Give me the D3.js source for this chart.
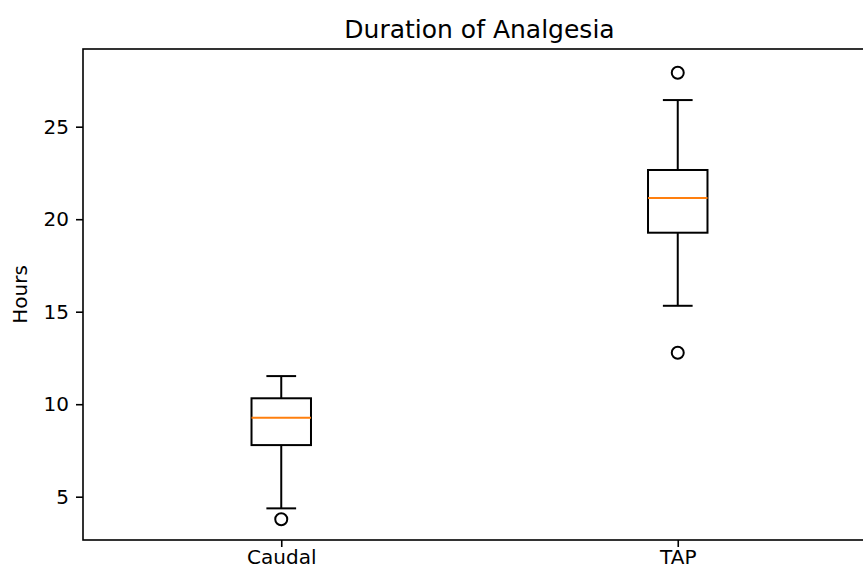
<!DOCTYPE html>
<html>
<head>
<meta charset="utf-8">
<script src="https://cdn.jsdelivr.net/npm/d3@7"></script>
<style>
  body { margin: 0; background: #fff; }
  text { font-family: "DejaVu Sans", sans-serif; fill: #000; }
</style>
</head>
<body>
<script>
// values (hours)
const categories = ['Caudal', 'TAP'];
const q1 = [7.79, 19.27];
const medians = [9.27, 21.15];
const q3 = [10.32, 22.66];
const whiskerLow = [4.37, 15.32];
const whiskerHigh = [11.52, 26.44];
const outliers = [[3.78], [12.78, 27.92]];
const yTicks = [5, 10, 15, 20, 25];

const boxes = categories.map((c, i) => ({
  name: c, pos: i + 1,
  q1: q1[i], med: medians[i], q3: q3[i],
  lo: whiskerLow[i], hi: whiskerHigh[i], out: outliers[i]
}));

const W = 863, H = 571;
const margin = { top: 49, left: 83, right: 876, bottom: 540 };

const x = d3.scaleLinear().domain([0.5, 2.5]).range([margin.left, margin.right]);
const y = d3.scaleLinear().domain([2.66, 29.2]).range([margin.bottom, margin.top]);

const svg = d3.select(document.body).append('svg')
  .attr('width', W)
  .attr('height', H);

const lw = 2;
const boxW = 0.15, capW = 0.075;

const g = svg.append('g');

const b = g.selectAll('g.box')
  .data(boxes)
  .enter().append('g')
  .attr('class', 'box');

// whiskers
b.append('line')
  .attr('x1', d => x(d.pos)).attr('x2', d => x(d.pos))
  .attr('y1', d => y(d.q3)).attr('y2', d => y(d.hi))
  .attr('stroke', '#000').attr('stroke-width', lw);
b.append('line')
  .attr('x1', d => x(d.pos)).attr('x2', d => x(d.pos))
  .attr('y1', d => y(d.q1)).attr('y2', d => y(d.lo))
  .attr('stroke', '#000').attr('stroke-width', lw);
// caps
b.append('line')
  .attr('x1', d => x(d.pos - capW / 2)).attr('x2', d => x(d.pos + capW / 2))
  .attr('y1', d => y(d.hi)).attr('y2', d => y(d.hi))
  .attr('stroke', '#000').attr('stroke-width', lw);
b.append('line')
  .attr('x1', d => x(d.pos - capW / 2)).attr('x2', d => x(d.pos + capW / 2))
  .attr('y1', d => y(d.lo)).attr('y2', d => y(d.lo))
  .attr('stroke', '#000').attr('stroke-width', lw);
// box
b.append('rect')
  .attr('x', d => x(d.pos - boxW / 2))
  .attr('width', d => x(d.pos + boxW / 2) - x(d.pos - boxW / 2))
  .attr('y', d => y(d.q3))
  .attr('height', d => y(d.q1) - y(d.q3))
  .attr('fill', 'none')
  .attr('stroke', '#000').attr('stroke-width', lw);
// median
b.append('line')
  .attr('x1', d => x(d.pos - boxW / 2)).attr('x2', d => x(d.pos + boxW / 2))
  .attr('y1', d => y(d.med)).attr('y2', d => y(d.med))
  .attr('stroke', '#ff7f0e').attr('stroke-width', lw);
// fliers
b.selectAll('circle')
  .data(d => d.out.map(v => ({ pos: d.pos, v })))
  .enter().append('circle')
  .attr('cx', d => x(d.pos))
  .attr('cy', d => y(d.v))
  .attr('r', 6)
  .attr('fill', 'none')
  .attr('stroke', '#000').attr('stroke-width', lw);

// axes
const yAxis = d3.axisLeft(y).tickValues(yTicks).tickSize(7).tickPadding(7);
const xAxis = d3.axisBottom(x).tickValues([1, 2]).tickFormat((d, i) => categories[i])
  .tickSize(7).tickPadding(3);

const ya = svg.append('g')
  .attr('transform', `translate(${margin.left},0)`)
  .call(yAxis);
const xa = svg.append('g')
  .attr('transform', `translate(0,${margin.bottom})`)
  .call(xAxis);

[ya, xa].forEach(a => {
  a.select('.domain').remove();
  a.selectAll('line').attr('stroke', '#000').attr('stroke-width', 1.6);
  a.selectAll('text').attr('font-size', '20px').attr('fill', '#000')
    .style('font-family', '"DejaVu Sans", sans-serif');
});

// spines
svg.append('rect')
  .attr('x', margin.left)
  .attr('y', margin.top)
  .attr('width', margin.right - margin.left)
  .attr('height', margin.bottom - margin.top)
  .attr('fill', 'none')
  .attr('stroke', '#000')
  .attr('stroke-width', 1.6);

// title
svg.append('text')
  .attr('x', (margin.left + margin.right) / 2)
  .attr('y', 38)
  .attr('text-anchor', 'middle')
  .attr('font-size', '25px')
  .text('Duration of Analgesia');

// y label
svg.append('text')
  .attr('transform', `translate(27,${(margin.top + margin.bottom) / 2}) rotate(-90)`)
  .attr('text-anchor', 'middle')
  .attr('font-size', '20px')
  .text('Hours');
</script>
</body>
</html>
